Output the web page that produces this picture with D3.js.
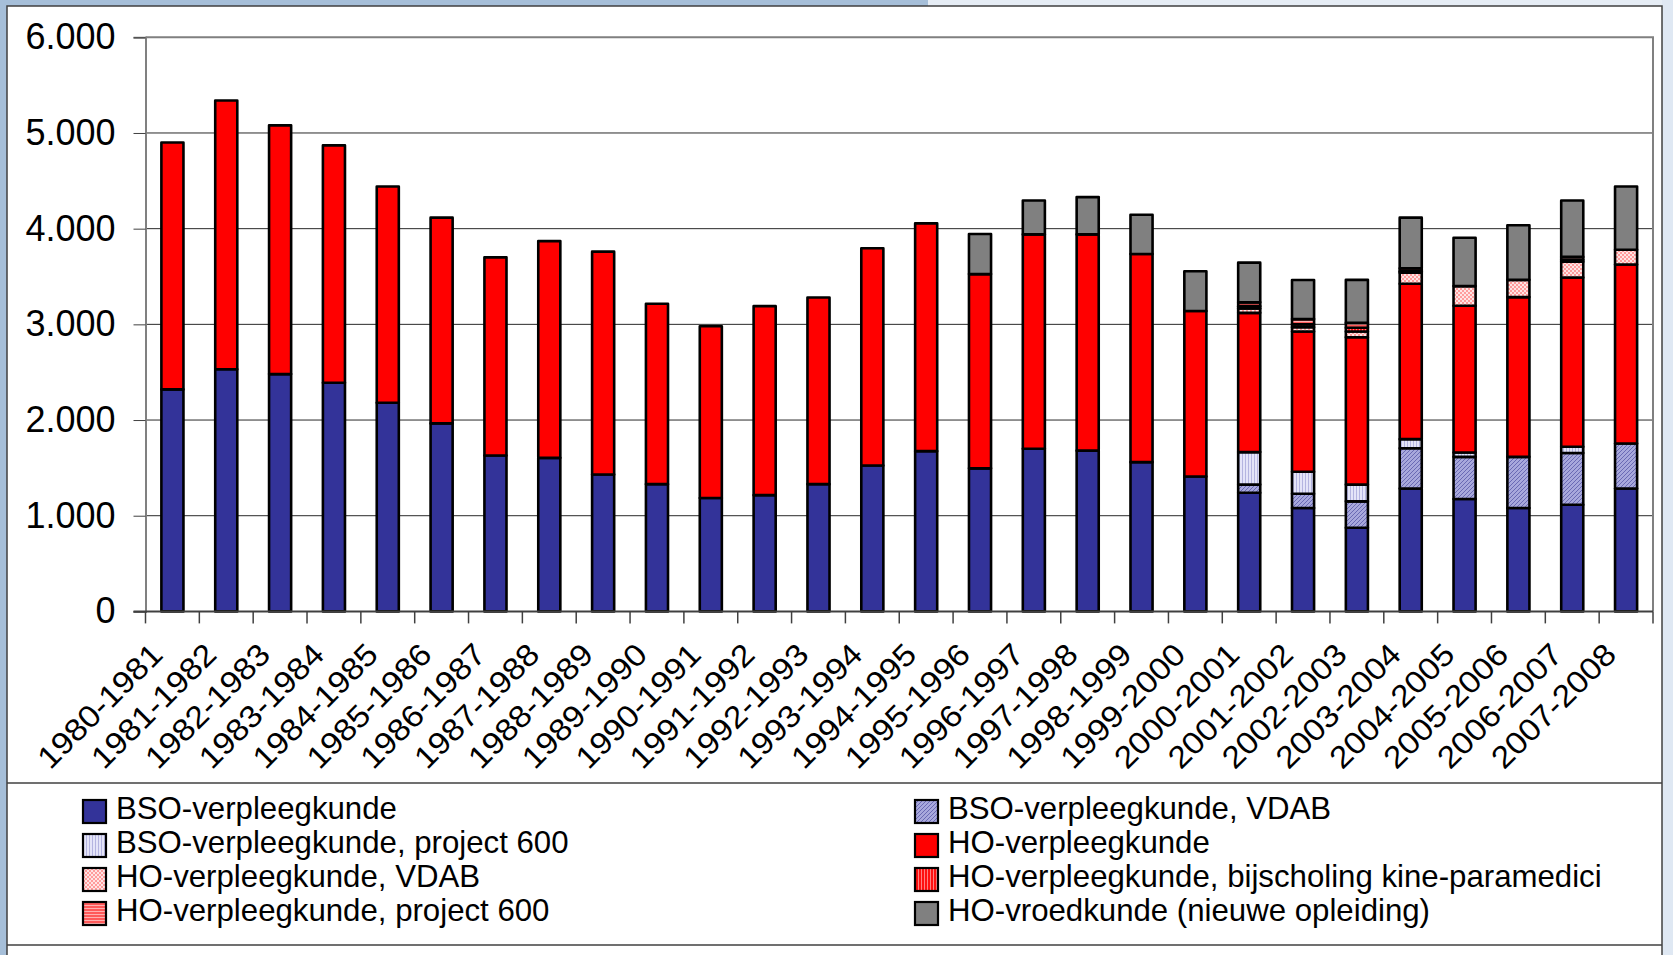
<!doctype html>
<html>
<head>
<meta charset="utf-8">
<script src="https://d3js.org/d3.v7.min.js"></script>
<style>
  body { margin: 0; background: #a6bfd9; }
  text { font-family: "Liberation Sans", Arial, sans-serif; fill: #000; }
</style>
</head>
<body>
<script>

// school years (categories)
var years = ["1980-1981", "1981-1982", "1982-1983", "1983-1984", "1984-1985", "1985-1986",
             "1986-1987", "1987-1988", "1988-1989", "1989-1990", "1990-1991", "1991-1992",
             "1992-1993", "1993-1994", "1994-1995", "1995-1996", "1996-1997", "1997-1998",
             "1998-1999", "1999-2000", "2000-2001", "2001-2002", "2002-2003", "2003-2004",
             "2004-2005", "2005-2006", "2006-2007", "2007-2008"];

var seriesNames = ["BSO-verpleegkunde", "BSO-verpleegkunde, VDAB", "BSO-verpleegkunde, project 600",
                   "HO-verpleegkunde", "HO-verpleegkunde, VDAB", "HO-verpleegkunde, bijscholing kine-paramedici",
                   "HO-verpleegkunde, project 600", "HO-vroedkunde (nieuwe opleiding)"];

var bso      = [2320, 2530, 2480, 2390, 2180, 1965, 1630, 1605, 1430, 1330, 1185, 1215, 1330, 1525,
                1675, 1495, 1700, 1680, 1560, 1410, 1240, 1080, 875, 1285, 1175, 1080, 1115, 1285];
var bsoVdab  = [0, 0, 0, 0, 0, 0, 0, 0, 0, 0, 0, 0, 0, 0,
                0, 0, 0, 0, 0, 0, 85, 150, 275, 420, 440, 535, 540, 470];
var bsoP600  = [0, 0, 0, 0, 0, 0, 0, 0, 0, 0, 0, 0, 0, 0,
                0, 0, 0, 0, 0, 0, 340, 230, 175, 95, 45, 0, 65, 0];
var ho       = [2580, 2810, 2600, 2480, 2260, 2150, 2070, 2265, 2330, 1885, 1795, 1975, 1950, 2270,
                2380, 2030, 2240, 2260, 2175, 1730, 1455, 1465, 1540, 1625, 1535, 1670, 1770, 1870];
var hoVdab   = [0, 0, 0, 0, 0, 0, 0, 0, 0, 0, 0, 0, 0, 0,
                0, 0, 0, 0, 0, 0, 45, 45, 60, 115, 205, 180, 165, 155];
var hoBij    = [0, 0, 0, 0, 0, 0, 0, 0, 0, 0, 0, 0, 0, 0,
                0, 0, 0, 0, 0, 0, 25, 30, 40, 15, 0, 0, 20, 0];
var hoP600   = [0, 0, 0, 0, 0, 0, 0, 0, 0, 0, 0, 0, 0, 0,
                0, 0, 0, 0, 0, 0, 40, 55, 50, 30, 0, 0, 30, 0];
var vroed    = [0, 0, 0, 0, 0, 0, 0, 0, 0, 0, 0, 0, 0, 0,
                0, 420, 355, 390, 410, 415, 415, 408, 450, 530, 505, 570, 590, 660];

var yTicks = [0, 1000, 2000, 3000, 4000, 5000, 6000];

var allSeries = [bso, bsoVdab, bsoP600, ho, hoVdab, hoBij, hoP600, vroed];
var fills = ["#333399", "url(#pBsoVdab)", "url(#pBsoP600)", "#ff0000",
             "url(#pHoVdab)", "url(#pHoBij)", "url(#pHoP600)", "#808080"];

// rows for d3.stack
var table = years.map(function(y, i) {
    var row = {year: y};
    seriesNames.forEach(function(s, k) { row[s] = allSeries[k][i]; });
    return row;
});

var W = 1673, H = 955;
var plot = {left: 145.5, right: 1653, top: 37.3, bottom: 611.4};

var svg = d3.select("body").append("svg")
    .attr("width", W)
    .attr("height", H);

// patterns
var defs = svg.append("defs");
var p = defs.append("pattern").attr("id", "pBsoVdab").attr("patternUnits", "userSpaceOnUse")
    .attr("width", 4).attr("height", 4);
p.append("rect").attr("width", 4).attr("height", 4).attr("fill", "#a8a8dc");
p.append("path").attr("d", "M-1,1 l2,-2 M0,4 l4,-4 M3,5 l2,-2").attr("stroke", "#6a6ab4").attr("stroke-width", 1);

p = defs.append("pattern").attr("id", "pBsoP600").attr("patternUnits", "userSpaceOnUse")
    .attr("width", 3).attr("height", 3);
p.append("rect").attr("width", 3).attr("height", 3).attr("fill", "#e4e4f8");
p.append("rect").attr("width", 1).attr("height", 3).attr("fill", "#b4b4e0");

p = defs.append("pattern").attr("id", "pHoVdab").attr("patternUnits", "userSpaceOnUse")
    .attr("width", 4).attr("height", 4);
p.append("rect").attr("width", 4).attr("height", 4).attr("fill", "#ffe4e4");
p.append("rect").attr("width", 2).attr("height", 2).attr("fill", "#ff9c9c");
p.append("rect").attr("x", 2).attr("y", 2).attr("width", 2).attr("height", 2).attr("fill", "#ff9c9c");

p = defs.append("pattern").attr("id", "pHoBij").attr("patternUnits", "userSpaceOnUse")
    .attr("width", 3).attr("height", 3);
p.append("rect").attr("width", 3).attr("height", 3).attr("fill", "#ff1010");
p.append("rect").attr("width", 1).attr("height", 3).attr("fill", "#ff8080");

p = defs.append("pattern").attr("id", "pHoP600").attr("patternUnits", "userSpaceOnUse")
    .attr("width", 3).attr("height", 3);
p.append("rect").attr("width", 3).attr("height", 3).attr("fill", "#ff5a5a");
p.append("rect").attr("width", 3).attr("height", 1).attr("fill", "#ffb0b0");

// background strips and chart frame
svg.append("rect").attr("x", 928).attr("y", 0).attr("width", W - 928).attr("height", 6).attr("fill", "#e6edf5");
svg.append("rect").attr("x", 1662).attr("y", 0).attr("width", W - 1662).attr("height", H).attr("fill", "#dfe8f3");
svg.append("rect")
    .attr("x", 7).attr("y", 6).attr("width", 1655).attr("height", H)
    .attr("fill", "#fff").attr("stroke", "#404040").attr("stroke-width", 1.5);

var x = d3.scaleBand().domain(years).range([plot.left, plot.right])
    .paddingInner(0.59).paddingOuter(0.295);
var y = d3.scaleLinear().domain([0, 6000]).range([plot.bottom, plot.top]);

var nl = d3.formatLocale({decimal: ",", thousands: ".", grouping: [3], currency: ["€", ""]});
var fmt = nl.format(",d");

// gridlines
svg.append("g").selectAll("line").data(yTicks.slice(1, -1)).enter().append("line")
    .attr("x1", plot.left).attr("x2", plot.right)
    .attr("y1", function(d) { return y(d); }).attr("y2", function(d) { return y(d); })
    .attr("stroke", "#2a2a2a").attr("stroke-width", 1);

// plot area border (top, right)
svg.append("path")
    .attr("d", "M" + plot.left + "," + y(6000) + "H" + plot.right + "V" + plot.bottom)
    .attr("fill", "none").attr("stroke", "#808080").attr("stroke-width", 2);

// stacked bars
var stack = d3.stack().keys(seriesNames);
var layers = stack(table);

svg.append("g").selectAll("g").data(layers).enter().append("g")
    .attr("fill", function(d, k) { return fills[k]; })
  .selectAll("rect")
    .data(function(d) { return d.filter(function(s) { return s[1] - s[0] > 0; }); })
    .enter().append("rect")
    .attr("x", function(d) { return x(d.data.year); })
    .attr("y", function(d) { return y(d[1]); })
    .attr("width", x.bandwidth())
    .attr("height", function(d) { return y(d[0]) - y(d[1]); })
    .attr("stroke", "#000").attr("stroke-width", 2.6)
    .attr("stroke-linejoin", "round");

// y axis
var yAxis = svg.append("g")
    .attr("transform", "translate(" + plot.left + ",0)")
    .call(d3.axisLeft(y).tickValues(yTicks).tickFormat(fmt).tickSize(12).tickPadding(18));
yAxis.select(".domain").attr("stroke", "#808080").attr("stroke-width", 2);
yAxis.selectAll(".tick line").attr("stroke", "#404040");
yAxis.selectAll(".tick text")
    .style("font-family", "'Liberation Sans', Arial, sans-serif")
    .style("font-size", "36px").attr("fill", "#000");

// x axis: baseline, ticks between categories, rotated labels
var step = x.step();
svg.append("line")
    .attr("x1", plot.left - 12).attr("x2", plot.right)
    .attr("y1", plot.bottom).attr("y2", plot.bottom)
    .attr("stroke", "#404040").attr("stroke-width", 2);
svg.append("g").selectAll("line").data(d3.range(years.length + 1)).enter().append("line")
    .attr("x1", function(k) { return plot.left + k * step; })
    .attr("x2", function(k) { return plot.left + k * step; })
    .attr("y1", plot.bottom).attr("y2", plot.bottom + 12)
    .attr("stroke", "#404040").attr("stroke-width", 1.5);

svg.append("g").selectAll("text").data(years).enter().append("text")
    .attr("transform", function(d) {
        var cx = x(d) + x.bandwidth() / 2 - 8;
        return "translate(" + cx + "," + (plot.bottom + 45) + ") rotate(-45) scale(1.09,1)";
    })
    .attr("text-anchor", "end")
    .style("font-size", "31px")
    .text(function(d) { return d; });

// legend
svg.append("line").attr("x1", 7).attr("x2", 1662).attr("y1", 783).attr("y2", 783)
    .attr("stroke", "#404040").attr("stroke-width", 1.5);
svg.append("line").attr("x1", 7).attr("x2", 1662).attr("y1", 945).attr("y2", 945)
    .attr("stroke", "#404040").attr("stroke-width", 1.5);

var legend = svg.append("g").selectAll("g").data(seriesNames).enter().append("g")
    .attr("transform", function(d, k) {
        var col = k % 2, row = Math.floor(k / 2);
        return "translate(" + (col ? 915 : 83) + "," + (800 + row * 34) + ")";
    });
legend.append("rect")
    .attr("width", 23).attr("height", 23)
    .attr("fill", function(d, k) { return fills[k]; })
    .attr("stroke", "#000").attr("stroke-width", 2.2);
legend.append("text")
    .attr("transform", "translate(33,19) scale(0.975,1)")
    .style("font-size", "32px")
    .text(function(d) { return d; });

</script>
</body>
</html>
